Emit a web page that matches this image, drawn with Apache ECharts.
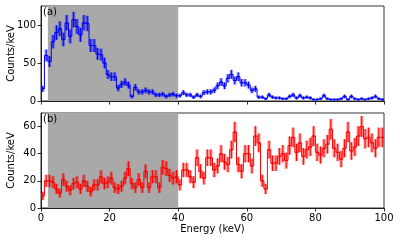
<!DOCTYPE html>
<html><head><meta charset="utf-8">
<script src="https://cdn.jsdelivr.net/npm/echarts@6/dist/echarts.min.js"></script>
<style>html,body{margin:0;padding:0;background:#fff}#c{width:400px;height:240px}</style>
</head><body><div id="c"></div>
<script>
// Left edges of 1 keV energy bins (keV)
const binStart = [0,1,2,3,4,5,6,7,8,9,10,11,12,13,14,15,16,17,18,19,20,21,22,23,24,25,26,27,28,29,30,31,32,33,34,35,36,37,38,39,40,41,42,43,44,45,46,47,48,49,50,51,52,53,54,55,56,57,58,59,60,61,62,63,64,65,66,67,68,69,70,71,72,73,74,75,76,77,78,79,80,81,82,83,84,85,86,87,88,89,90,91,92,93,94,95,96,97,98,99];
// Panel (a) counts/keV
const countsA = [16,60,52,78,90,95,81,103,85,107, 98,87,103,102,73,73,62,61,50,35, 32,32,17,22,25,21,6,18,12,12, 14,12,12,8,8,9,6,8,9,7, 7,11,8,8,5,8,6,11,12,12, 14,20,25,20,30,35,27,32,24,24, 21,14,16,5,5,3,8,5,4,4, 3,3,6,8,4,7,4,5,4,2, 2,3,7,3,2,2,2,3,6,2, 6,3,2,3,2,3,4,6,3,2];
// Panel (b) counts/keV
const countsB = [9,20,20,19,14,11,21,16,13,18, 19,14,20,16,12,17,17,23,18,19, 22,15,14,16,22,29,18,15,21,15, 27,15,23,23,15,30,29,24,22,23, 17,28,28,23,19,37,27,22,37,37, 28,31,40,34,32,43,56,32,27,40, 40,31,53,48,20,14,43,33,33,38, 40,35,46,52,41,48,38,43,45,53, 41,39,44,47,58,44,41,36,44,56, 42,45,53,60,51,52,48,44,52,52];
const shadedRange = [2, 40];
const xTicks = [0,20,40,60,80,100];
const yTicksA = [0,50,100];
const yTicksB = [0,20,40,60];

function buildData(vals){
  return binStart.map((e,i)=>[e, vals[i], Math.sqrt(vals[i]), i>0?vals[i-1]:vals[i]]);
}
const FONT = 'DejaVu Sans';

function bandRender(fill){
  return function(params, api){
    const e=api.value(0), v=api.value(1), er=api.value(2);
    const a=api.coord([e, v+er]), b=api.coord([e+1, v-er]);
    return {type:'rect', shape:{x:a[0], y:a[1], width:b[0]-a[0], height:b[1]-a[1]}, style:{fill:fill}};
  };
}
function stepRender(color){
  return function(params, api){
    const e=api.value(0), v=api.value(1), pv=api.value(3);
    const p0=api.coord([e,v]), p1=api.coord([e+1,v]), pp=api.coord([e,pv]);
    return {type:'polyline', shape:{points:[pp,p0,p1]}, style:{stroke:color, lineWidth:1, fill:null}};
  };
}
function errRender(color){
  return function(params, api){
    const e=api.value(0), v=api.value(1), er=api.value(2);
    const t=api.coord([e+0.5, v+er]), bt=api.coord([e+0.5, v-er]);
    const l=api.coord([e+0.2, v]), r=api.coord([e+0.8, v]);
    return {type:'group', children:[
      {type:'line', shape:{x1:t[0], y1:t[1], x2:bt[0], y2:bt[1]}, style:{stroke:color, lineWidth:1}},
      {type:'line', shape:{x1:l[0], y1:l[1], x2:r[0], y2:r[1]}, style:{stroke:color, lineWidth:1.3}}
    ]};
  };
}
function grayRender(params, api){
  const cs=params.coordSys;
  const a=api.coord([api.value(0), 0]), b=api.coord([api.value(1), 0]);
  return {type:'rect', shape:{x:a[0], y:cs.y, width:b[0]-a[0], height:cs.height}, style:{fill:'#a9a9a9'}};
}

function xAxis(idx, showLabels){
  return {type:'value', gridIndex:idx, min:0, max:100, interval:20,
    axisLine:{show:true, onZero:false, lineStyle:{color:'#000', width:0.8}},
    axisTick:{show:true, inside:false, length:3.5, lineStyle:{color:'#000', width:0.8}, customValues:xTicks},
    axisLabel:{show:showLabels, color:'#000', fontFamily:FONT, fontSize:10, margin:5, customValues:xTicks},
    splitLine:{show:false},
    name: showLabels?'Energy (keV)':'', nameLocation:'middle', nameGap:16, nameMoveOverlap:false,
    nameTextStyle:{color:'#000', fontFamily:FONT, fontSize:10}};
}
function yAxis(idx, max, ticks){
  return {type:'value', gridIndex:idx, min:0, max:max,
    axisLine:{show:true, onZero:false, lineStyle:{color:'#000', width:0.8}},
    axisTick:{show:true, inside:false, length:3.5, lineStyle:{color:'#000', width:0.8}, customValues:ticks},
    axisLabel:{color:'#000', fontFamily:FONT, fontSize:10, margin:5, customValues:ticks},
    splitLine:{show:false},
    name:'Counts/keV', nameLocation:'middle', nameGap:25, nameRotate:90, nameMoveOverlap:false,
    nameTextStyle:{color:'#000', fontFamily:FONT, fontSize:10}};
}
function panelSeries(idx, vals, color, band){
  const d=buildData(vals);
  return [
    {type:'custom', xAxisIndex:idx, yAxisIndex:idx, data:[shadedRange], renderItem:grayRender, z:1, silent:true},
    {type:'custom', xAxisIndex:idx, yAxisIndex:idx, data:d, renderItem:bandRender(band), z:2, clip:true, silent:true},
    {type:'custom', xAxisIndex:idx, yAxisIndex:idx, data:d, renderItem:stepRender(color), z:3, clip:true, silent:true},
    {type:'custom', xAxisIndex:idx, yAxisIndex:idx, data:d, renderItem:errRender(color), z:4, clip:true, silent:true}
  ];
}

const chart = echarts.init(document.getElementById('c'), null, {renderer:'canvas'});
chart.setOption({
  animation:false,
  backgroundColor:'#fff',
  grid:[
    {left:41, right:16, top:6, height:95, containLabel:false, outerBoundsMode:'none', show:true, borderColor:'#000', borderWidth:0.8, backgroundColor:'transparent'},
    {left:41, right:16, top:113, height:95, containLabel:false, outerBoundsMode:'none', show:true, borderColor:'#000', borderWidth:0.8, backgroundColor:'transparent'}
  ],
  xAxis:[xAxis(0,false), xAxis(1,true)],
  yAxis:[yAxis(0,125,yTicksA), yAxis(1,70,yTicksB)],
  series:[].concat(
    panelSeries(0, countsA, '#0000ff', 'rgba(0,0,255,0.38)'),
    panelSeries(1, countsB, '#ff0000', 'rgba(255,0,0,0.38)')
  ),
  graphic:[
    {type:'text', left:43, top:7, z:100, style:{text:'(a)', fill:'#000', font:'10px "DejaVu Sans"'}},
    {type:'text', left:43, top:114, z:100, style:{text:'(b)', fill:'#000', font:'10px "DejaVu Sans"'}}
  ]
});
</script>
</body></html>
